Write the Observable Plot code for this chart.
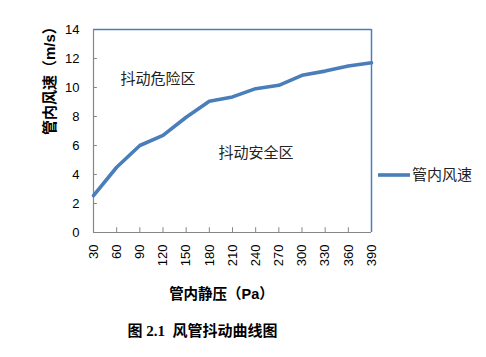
<!DOCTYPE html>
<html><head><meta charset="utf-8">
<script src="https://cdn.jsdelivr.net/npm/d3@7"></script>
<script src="https://cdn.jsdelivr.net/npm/@observablehq/plot@0.6"></script>
<style>body{margin:0;background:#fff}#c{width:486px;height:357px}</style>
</head><body><div id="c"></div>
<script>
const pressure = [30,60,90,120,150,180,210,240,270,300,330,360,390];
const speed = [2.55,4.5,6.0,6.7,7.95,9.05,9.35,9.92,10.15,10.84,11.13,11.48,11.71];
const yTicks = [0,2,4,6,8,10,12,14];
const seriesName = "管内风速";
const yTitle = "管内风速（m/s）";
const xTitle = "管内静压（Pa）";
const caption = "图 2.1  风管抖动曲线图";
const zones = [{x:65,y:10.6,t:"抖动危险区"},{x:192,y:5.5,t:"抖动安全区"}];
const data = pressure.map((p,i)=>({p, v: speed[i]}));
const blue = "#4A7EBB", gray = "#868686";
const cjk = "'Liberation Sans','Noto Sans CJK SC',sans-serif";
const cjkSerif = "'Liberation Serif','Noto Sans CJK SC',serif";

const chart = Plot.plot({
  width: 486, height: 357,
  marginLeft: 93, marginRight: 115, marginTop: 29, marginBottom: 125,
  style: {fontFamily: cjk, background: "#fff", color: "#000"},
  x: {domain: [30, 390]},
  y: {domain: [0, 14]},
  marks: [
    Plot.axisY({ticks: yTicks, tickSize: 0, tickPadding: 14, fontSize: 13, label: null}),
    Plot.axisX({ticks: pressure, tickSize: 0, tickPadding: 12, tickRotate: -90, fontSize: 13, label: null, tickFormat: d => String(d)}),
    Plot.ruleY([14], {stroke: blue, strokeWidth: 1.5}),
    Plot.ruleX([390], {stroke: blue, strokeWidth: 1.5}),
    Plot.ruleX([30], {stroke: gray, strokeWidth: 1.2}),
    Plot.ruleY([0], {stroke: gray, strokeWidth: 1.2}),
    Plot.ruleX(pressure.slice(1, -1), {x: d => d, y1: 0, y2: 0.33, stroke: gray}),
    Plot.ruleY(yTicks.slice(1, -1), {y: d => d, x1: 30, x2: 35, stroke: gray}),
    Plot.line(data, {x: "p", y: "v", stroke: blue, strokeWidth: 3.6, strokeLinejoin: "round"}),
    Plot.text(zones, {x: "x", y: "y", text: "t", textAnchor: "start", fontSize: 15, fill: "#222", fontFamily: cjkSerif}),
    Plot.text([yTitle], {frameAnchor: "left", dx: -43, dy: 4, rotate: -90, fontSize: 15, fontWeight: "bold", text: d => d}),
    Plot.text([xTitle], {frameAnchor: "bottom", dx: -11, dy: 66, fontSize: 14.5, fontWeight: "bold", text: d => d}),
    Plot.text([caption], {frameAnchor: "bottom", dx: -30, dy: 103, fontSize: 15, fontWeight: "bold", fontFamily: cjkSerif, text: d => d})
  ]
});
document.getElementById("c").appendChild(chart);
// legend
const svg = d3.select(chart);
const lg = svg.append("g");
lg.append("line").attr("x1", 378).attr("x2", 410).attr("y1", 175).attr("y2", 175).attr("stroke", blue).attr("stroke-width", 3.6);
lg.append("text").attr("x", 412).attr("y", 175).attr("dy", "0.35em").attr("text-anchor", "start").attr("font-size", 15).attr("font-family", cjkSerif).attr("fill", "#222").text(seriesName);
</script>
</body></html>
